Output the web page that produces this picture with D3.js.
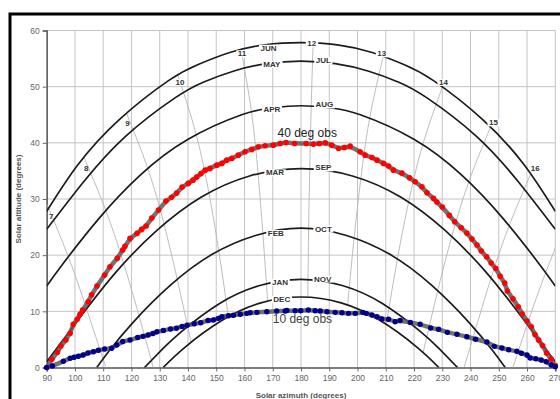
<!DOCTYPE html>
<html>
<head>
<meta charset="utf-8">
<script src="https://cdn.jsdelivr.net/npm/d3@7/dist/d3.min.js"></script>
<style>
  body { margin: 0; background: #fff; }
  svg { display: block; font-family: "Liberation Sans", Arial, sans-serif; }
</style>
</head>
<body>
<svg id="chart" width="560" height="399"></svg>
<script>
// axis ticks
const azTicks = [90, 100, 110, 120, 130, 140, 150, 160, 170, 180, 190, 200, 210, 220, 230, 240, 250, 260, 270];
const altTicks = [0, 10, 20, 30, 40, 50, 60];

// sun path curves, [azimuth, altitude]
const junPath = [[90, 27.8], [100.9, 36.0], [115.5, 44.05], [133.1, 51.07], [143.4, 53.9], [154.8, 56.08], [167.1, 57.45], [180, 57.85],
  [192.9, 57.45], [205.2, 56.08], [216.6, 53.9], [226.9, 51.07], [244.5, 44.05], [259.1, 36.0], [270, 27.8]];
const mayJulPath = [[90, 24.6], [103.3, 33.2], [118, 41.2], [135.4, 48.0], [145.4, 50.8], [156.3, 52.8], [167.9, 54.1], [180, 54.55],
  [192.1, 54.1], [203.7, 52.8], [214.6, 50.8], [224.6, 48.0], [242, 41.2], [256.7, 33.2], [270, 24.6]];
const aprAugPath = [[90, 14.5], [95.5, 18.3], [108.6, 26.6], [123.2, 34.3], [139.9, 40.6], [159, 45.0], [169.4, 46.2], [180, 46.6],
  [190.6, 46.2], [201, 45.0], [220.1, 40.6], [236.8, 34.3], [251.4, 26.6], [264.5, 18.3], [270, 14.5]];
const marSepPath = [[90, 1.0], [101.9, 9.0], [114.9, 17.2], [129, 24.4], [144.6, 30.3], [161.8, 34.1], [180, 35.4],
  [198.2, 34.1], [215.4, 30.3], [231, 24.4], [245.1, 17.2], [258.1, 9.0], [270, 1.0]];
const febOctPath = [[107.7, 0], [112, 2.9], [120.5, 8.0], [133.9, 14.7], [148.4, 20.1], [163.9, 23.5], [180, 24.8],
  [196.1, 23.5], [211.6, 20.1], [226.1, 14.7], [239.5, 8.0], [248, 2.9], [252.3, 0]];
const janNovPath = [[124.6, 0], [131.2, 3.4], [137.7, 6.4], [151.2, 11.4], [165.4, 14.6], [180, 15.7],
  [194.6, 14.6], [208.8, 11.4], [222.3, 6.4], [228.8, 3.4], [235.4, 0]];
const decPath = [[131.2, 0], [138.9, 3.6], [152.1, 8.4], [165.8, 11.5], [180, 12.55],
  [194.2, 11.5], [207.9, 8.4], [221.1, 3.6], [228.8, 0]];
const monthPaths = [junPath, mayJulPath, aprAugPath, marSepPath, febOctPath, janNovPath, decPath];

// clock hour lines
const hourLines = [
  [[90.1, 29.0], [97.6, 19.8], [104, 10.6], [109.9, 1.6], [111, 0]],
  [[103.2, 37.4], [110.9, 28.0], [117.2, 18.6], [122.7, 9.2], [127.7, 0]],
  [[118.2, 45.3], [125.8, 35.4], [131.5, 25.6], [136.2, 15.7], [141.1, 4.5]],
  [[136.4, 52.1], [142.9, 41.5], [147.4, 31.1], [150.9, 20.8], [154.3, 9.0]],
  [[158.8, 56.6], [162.5, 45.4], [164.8, 34.6], [166.5, 23.9], [168.2, 11.8]],
  [[184.3, 57.9], [183.6, 46.4], [183.1, 35.5], [182.7, 24.7], [182.4, 12.5]],
  [[209.1, 55.4], [204.3, 44.4], [201.2, 33.7], [198.8, 23.1], [196.5, 11.1]],
  [[230.1, 50.0], [223.1, 39.7], [218.1, 29.5], [214.1, 19.3], [210.2, 7.7]],
  [[247.1, 42.8], [239.4, 33.1], [233.4, 23.4], [228.4, 13.7], [223.2, 2.6]],
  [[261.4, 34.6], [253.7, 25.3], [247.3, 16.0], [241.7, 6.7], [237.7, 0]],
  [[273.9, 26.1], [266.6, 16.9], [260.2, 7.9], [255, 0]]
];

// labels on the curves
const monthLabels = [
  ['JUN', 168.5, 56.9], ['MAY', 169.7, 54.0], ['JUL', 187.9, 54.7], ['APR', 169.7, 46.0], ['AUG', 188.3, 46.8],
  ['MAR', 170.8, 34.7], ['SEP', 187.9, 35.6], ['FEB', 171.1, 23.9], ['OCT', 187.9, 24.7],
  ['JAN', 172.6, 15.2], ['NOV', 187.7, 15.8], ['DEC', 173.2, 12.15]
];
const hourLabels = [
  ['7', 91.6, 26.9, false], ['8', 104.0, 35.4, false], ['9', 118.6, 43.5, false], ['10', 137.2, 50.8, true],
  ['11', 159.1, 55.9, true], ['12', 183.8, 57.7, true], ['13', 208.6, 55.9, true], ['14', 230.4, 50.8, true],
  ['15', 248.1, 43.6, true], ['16', 262.9, 35.4, false]
];

// observed tracks
const obs40 = [[90.0, 0.0], [91.8, 1.46], [93.8, 2.70], [95.0, 3.83], [96.8, 4.89], [98.3, 6.09], [99.4, 7.69], [100.8, 8.58],
  [101.8, 9.47], [102.7, 10.23], [104.7, 11.71], [105.9, 12.95], [107.8, 14.50], [110.5, 16.46], [112.4, 17.94], [115.0, 19.43],
  [116.9, 20.91], [117.7, 21.57], [119.5, 22.99], [122.0, 23.88], [123.6, 24.59], [125.2, 25.18], [127.2, 26.60], [129.6, 28.03],
  [132.2, 29.63], [134.2, 30.29], [136.0, 31.05], [137.9, 32.12], [140.1, 32.78], [141.8, 33.36], [143.1, 33.90], [144.6, 34.52],
  [146.1, 35.14], [147.8, 35.45], [150.2, 36.03], [152.0, 36.34], [153.7, 36.92], [155.5, 37.23], [157.8, 37.81], [160.2, 38.40],
  [162.6, 38.83], [164.9, 39.29], [167.3, 39.47], [170.2, 39.59], [172.6, 39.89], [174.7, 40.07], [177.7, 39.89], [181.8, 39.89],
  [184.4, 39.77], [186.5, 39.89], [188.6, 40.0], [190.9, 39.59], [193.3, 39.0], [195.4, 39.18], [197.4, 39.41], [200.9, 38.40],
  [202.7, 37.81], [205.1, 37.40], [206.9, 36.92], [209.2, 36.34], [211.0, 35.86], [212.7, 35.14], [215.7, 34.61], [218.4, 33.77],
  [220.4, 33.06], [222.8, 32.17], [224.6, 31.10], [226.9, 30.11], [228.1, 29.45], [230.0, 28.56], [232.5, 27.08], [234.4, 25.94],
  [236.7, 24.88], [238.7, 23.93], [240.5, 22.87], [242.3, 21.80], [243.8, 20.73], [245.7, 19.72], [247.3, 18.59], [248.9, 17.65],
  [250.5, 16.23], [252.1, 15.04], [253.0, 13.61], [255.0, 12.22], [256.9, 10.82], [258.3, 9.52], [260.0, 8.27], [261.5, 7.26],
  [262.8, 5.87], [264.1, 4.89], [265.5, 3.91], [266.9, 2.58], [268.5, 1.51], [270.0, 0.36]];
const obs10 = [[90.0, 0.0], [92.0, 0.27], [95.9, 1.10], [98.3, 1.64], [99.7, 1.82], [101.2, 1.99], [102.9, 2.22], [104.6, 2.58],
  [106.5, 2.81], [108.3, 3.06], [110.5, 3.29], [113.0, 3.42], [114.8, 4.00], [116.9, 4.63], [119.5, 4.89], [122.2, 5.34],
  [124.1, 5.55], [125.9, 5.78], [127.6, 6.05], [129.0, 6.37], [131.3, 6.58], [133.8, 6.85], [135.9, 6.98], [137.9, 7.30],
  [139.7, 7.53], [142.2, 7.79], [144.5, 7.97], [147.1, 8.36], [149.0, 8.45], [150.8, 8.75], [152.0, 9.04], [154.3, 9.22],
  [156.1, 9.29], [158.5, 9.47], [160.8, 9.64], [162.0, 9.75], [164.4, 9.82], [167.9, 9.93], [171.4, 10.05], [174.4, 10.05],
  [175.0, 10.14], [177.9, 10.11], [179.9, 10.11], [182.6, 10.23], [185.0, 10.11], [186.8, 10.05], [189.2, 9.93], [192.1, 9.82],
  [194.5, 9.75], [196.8, 9.64], [199.2, 9.64], [201.9, 9.82], [203.1, 9.64], [205.1, 9.34], [206.9, 9.04], [208.6, 8.63],
  [211.0, 8.58], [213.3, 8.15], [215.1, 8.36], [218.7, 8.01], [222.2, 7.69], [225.9, 7.03], [228.7, 6.80], [231.8, 6.26],
  [235.2, 5.91], [238.7, 5.48], [241.8, 5.04], [245.8, 4.54], [248.4, 3.77], [251.1, 3.47], [253.5, 3.17], [256.4, 2.90],
  [258.0, 2.53], [260.0, 2.22], [261.1, 1.69], [263.1, 1.55], [265.0, 1.33], [266.8, 1.03], [268.6, 0.44], [270.0, 0.14]];

const svg = d3.select('#chart');
const x = d3.scaleLinear().domain([90, 270]).range([46.7, 555.3]);
const y = d3.scaleLinear().domain([0, 60]).range([367.5, 30.5]);

svg.append('rect')
  .attr('x', 10).attr('y', 14).attr('width', 580).attr('height', 420)
  .attr('fill', 'none').attr('stroke', '#000').attr('stroke-width', 3);

svg.append('defs').append('clipPath').attr('id', 'plot')
  .append('rect')
  .attr('x', x(90)).attr('y', y(60))
  .attr('width', x(270) - x(90)).attr('height', y(0) - y(60));

// grid
const grid = svg.append('g').attr('stroke', '#c4c4c4').attr('stroke-width', 1);
grid.selectAll('.vgrid').data(azTicks).enter().append('line')
  .attr('x1', d => x(d)).attr('x2', d => x(d))
  .attr('y1', y(0)).attr('y2', y(60));
grid.selectAll('.hgrid').data(altTicks.slice(1)).enter().append('line')
  .attr('x1', x(90)).attr('x2', x(270))
  .attr('y1', d => y(d)).attr('y2', d => y(d));

// axes
const xAxis = svg.append('g')
  .attr('transform', `translate(0,${y(0)})`)
  .call(d3.axisBottom(x).tickValues(azTicks).tickSize(4).tickPadding(3));
const yAxis = svg.append('g')
  .attr('transform', `translate(${x(90)},0)`)
  .call(d3.axisLeft(y).tickValues(altTicks).tickSize(4).tickPadding(3));
[xAxis, yAxis].forEach(a => {
  a.select('.domain').attr('stroke', '#555').attr('stroke-width', 1.4);
  a.selectAll('.tick line').attr('stroke', '#666');
  a.selectAll('.tick text').attr('fill', '#666').attr('font-size', '8.5px')
    .attr('font-family', '"Liberation Sans", Arial, sans-serif');
});

svg.append('text')
  .attr('x', 301).attr('y', 397.5)
  .attr('text-anchor', 'middle').attr('font-size', '8px').attr('font-weight', 'bold').attr('fill', '#555')
  .text('Solar azimuth (degrees)');
svg.append('text')
  .attr('transform', 'translate(21,199) rotate(-90)')
  .attr('text-anchor', 'middle').attr('font-size', '8px').attr('font-weight', 'bold').attr('fill', '#555')
  .text('Solar altitude (degrees)');

const plot = svg.append('g').attr('clip-path', 'url(#plot)');
const line = d3.line().x(d => x(d[0])).y(d => y(d[1])).curve(d3.curveNatural);

plot.selectAll('.hour').data(hourLines).enter().append('path')
  .attr('d', line).attr('fill', 'none').attr('stroke', '#b5b5b5').attr('stroke-width', 0.9);

plot.selectAll('.month').data(monthPaths).enter().append('path')
  .attr('d', line).attr('fill', 'none').attr('stroke', '#1c1c1c').attr('stroke-width', 1.7);

// labels, with white gaps where they sit on a curve
function addLabel(txt, az, alt, gap) {
  const g = svg.append('g');
  const t = g.append('text')
    .attr('x', x(az)).attr('y', y(alt)).attr('dy', '0.35em')
    .attr('text-anchor', 'middle').attr('font-size', '8px').attr('font-weight', 'bold').attr('fill', '#333')
    .text(txt);
  if (gap) {
    const b = t.node().getBBox();
    g.insert('rect', 'text')
      .attr('x', b.x - 1.5).attr('y', b.y + 1).attr('width', b.width + 3).attr('height', b.height - 2)
      .attr('fill', '#fff');
  }
}
monthLabels.forEach(d => addLabel(d[0], d[1], d[2], true));
hourLabels.forEach(d => addLabel(d[0], d[1], d[2], d[3]));

// observations
const obsLine = d3.line().x(d => x(d[0])).y(d => y(d[1])).curve(d3.curveBasis);
[obs40, obs10].forEach(data => {
  plot.append('path').attr('d', obsLine(data)).attr('fill', 'none')
    .attr('stroke', '#5a5a5a').attr('stroke-width', 4.5).attr('stroke-opacity', 0.85);
});

svg.append('text')
  .attr('x', x(182.2)).attr('y', y(41.1))
  .attr('text-anchor', 'middle').attr('font-size', '12px').attr('fill', '#222')
  .text('40 deg obs');
svg.append('text')
  .attr('x', x(180.5)).attr('y', y(8.0))
  .attr('text-anchor', 'middle').attr('font-size', '12px').attr('fill', '#444')
  .text('10 deg obs');

svg.append('g').selectAll('circle').data(obs40).enter().append('circle')
  .attr('cx', d => x(d[0])).attr('cy', d => y(d[1])).attr('r', 2.8).attr('fill', '#ff0000');
svg.append('g').selectAll('circle').data(obs10).enter().append('circle')
  .attr('cx', d => x(d[0])).attr('cy', d => y(d[1])).attr('r', 2.7).attr('fill', '#00008b');
</script>
</body>
</html>
